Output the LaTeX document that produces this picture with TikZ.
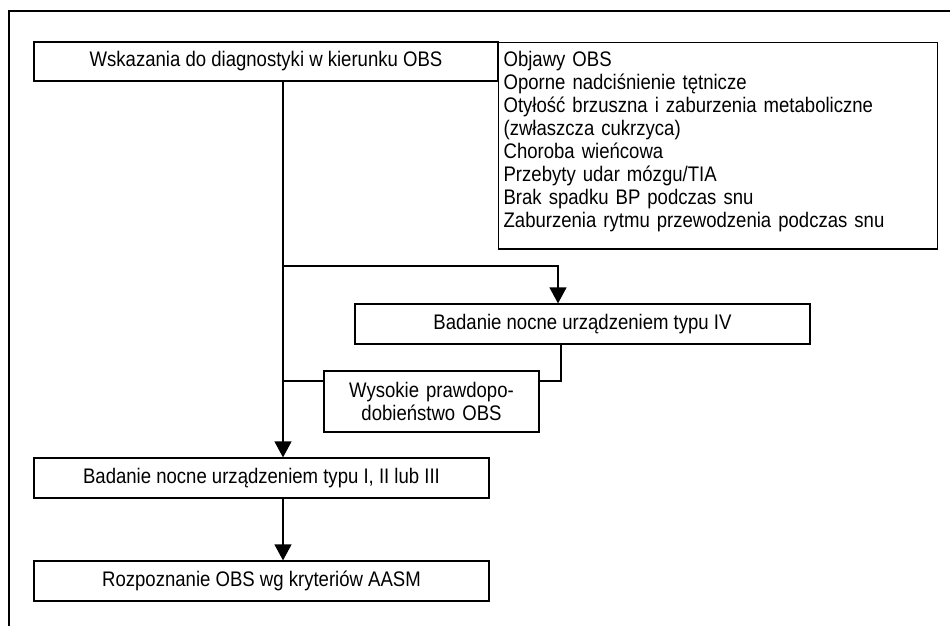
\documentclass[tikz,border=0pt]{standalone}
\usepackage{fontspec}
\setmainfont{Liberation Sans}[FakeStretch=0.88]
\usetikzlibrary{arrows.meta, calc, positioning}

\tikzset{
  box/.style={draw, line width=0.7pt, inner sep=0pt, minimum height=0.8cm,
    font=\fontsize{12}{13.1}\selectfont},
  link/.style={line width=0.7pt},
  arr/.style={link, -{Triangle[length=0.32cm, width=0.34cm]}},
}

\begin{document}
\begin{tikzpicture}[x=0.02cm, y=-0.02cm]
  \useasboundingbox (0,0) rectangle (950,626);
  % frame
  \draw[link] (950,11) -- (9,11) -- (9,626);

  % boxes
  \node[box, minimum width=9.28cm, minimum height=0.78cm] (wsk) at (266,61.5)
    {Wskazania do diagnostyki w kierunku OBS};
  \node[box, minimum height=4.13cm, anchor=north west, align=left,
    text width=8.58cm, inner xsep=0.1cm] (objawy) at (498,42)
    {Objawy OBS\\
     Oporne nadciśnienie tętnicze\\
     Otyłość brzuszna i zaburzenia metaboliczne\\
     (zwłaszcza cukrzyca)\\
     Choroba wieńcowa\\
     Przebyty udar mózgu/TIA\\
     Brak spadku BP podczas snu\\
     Zaburzenia rytmu przewodzenia podczas snu\rule[-7.6pt]{0pt}{0pt}};
  \node[box, minimum width=9.1cm] (typ4) at (582.5,324)
    {Badanie nocne urządzeniem typu IV};
  \node[box, minimum height=1.22cm, text width=4.3cm, align=center] (wysokie) at (431.5,401.5)
    {Wysokie prawdopo-\\dobieństwo OBS};
  \node[box, minimum width=9.1cm] (typ123) at (261.5,478)
    {Badanie nocne urządzeniem typu I, II lub III};
  \node[box, minimum width=9.1cm] (rozp) at (261.5,581)
    {Rozpoznanie OBS wg kryteriów AASM};

  % connectors
  \coordinate (trunk) at (283,0);
  \coordinate (fork) at (283,266);
  \coordinate (join) at (283,381);
  \draw[arr] (wsk.south -| trunk) -- (typ123.north -| trunk);
  \draw[arr] (fork) -| (558,266) -- (typ4.north -| 558,0);
  \draw[link] (typ4.south -| 561,0) |- (wysokie.east |- join);
  \draw[link] (wysokie.west |- join) -- (join);
  \draw[arr] (typ123.south -| trunk) -- (rozp.north -| trunk);
\end{tikzpicture}
\end{document}
